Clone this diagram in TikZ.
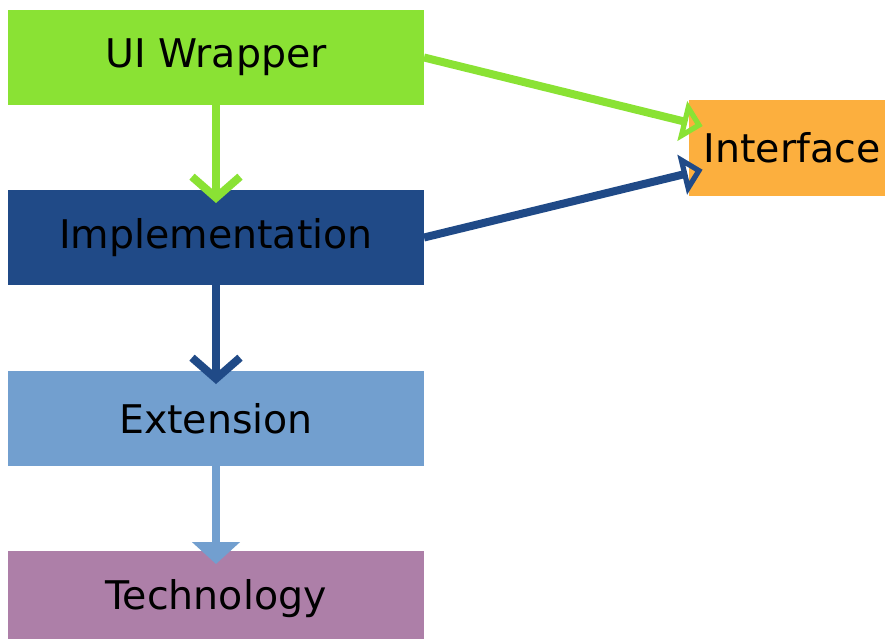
\documentclass[tikz,border=0pt]{standalone}
\usepackage{fontspec}
\setmainfont{DejaVu Sans}
\usepackage{xcolor}
\usepackage{tikz}
\usetikzlibrary{arrows.meta, calc}

\definecolor{uigreen}{HTML}{8AE234}
\definecolor{impblue}{HTML}{204A87}
\definecolor{extblue}{HTML}{729FCF}
\definecolor{techplum}{HTML}{AD7FA8}
\definecolor{ifaceorange}{HTML}{FCAF3E}

\begin{document}
\begin{tikzpicture}[x=1pt,y=1pt,%
  layer/.style={%
    inner sep=0pt,
    outer sep=0pt,
    minimum width=416pt,
    minimum height=95pt,
    font=\fontsize{39.5}{47}\selectfont,
  },
  down/.style={line width=8pt,-{Straight Barb[length=21pt,width=48pt,line width=8pt]},shorten >=-13pt},
  real/.style={line width=8pt,-{Triangle[open,length=21pt,width=40pt,line width=6.5pt]},shorten >=92pt},
  ]
  \useasboundingbox (0,0) rectangle (885,-639);
% boxes
  \node[layer,fill=uigreen] (ui) at (216,-57.5) {UI Wrapper};
  \node[layer,fill=impblue] (impl) at (216,-237.5) {Implementation};
  \node[layer,fill=extblue] (ext) at (216,-418.5) {Extension};
  \node[layer,fill=techplum] (tech) at (216,-598.5) {Technology};
  \node[layer,fill=ifaceorange,minimum width=206pt] (iface) at (792,-148) {Interface};
% arrows
  \draw[down,uigreen] (ui.south) -- (impl.north);
  \draw[down,impblue] (impl.south) -- (ext.north);
  \draw[extblue,line width=8pt,-{Triangle[length=22pt,width=47pt]},shorten >=-13pt] (ext.south) -- (tech.north);
  \draw[real,uigreen] (ui.east) -- (iface.center);
  \draw[real,impblue] (impl.east) -- (iface.center);
\end{tikzpicture}
\end{document}
